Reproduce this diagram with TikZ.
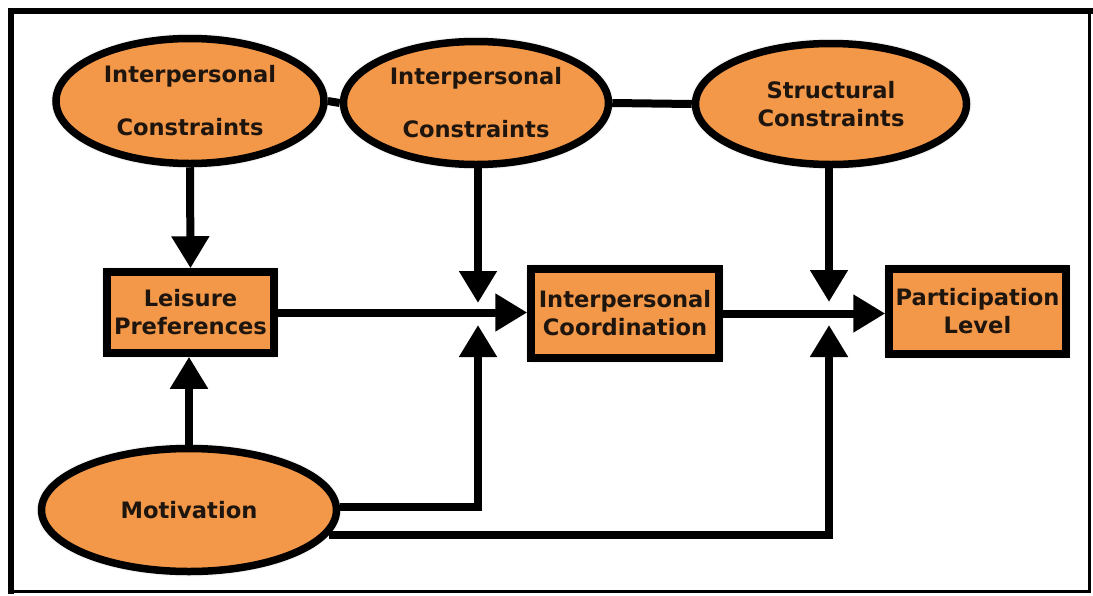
\documentclass[tikz,border=0pt]{standalone}
\usepackage{fontspec}
\setmainfont{DejaVu Sans}
\usetikzlibrary{arrows.meta,shapes.geometric,shadows.blur}
\definecolor{boxorange}{RGB}{243,151,72}
\definecolor{inkdark}{RGB}{30,22,14}

\begin{document}
\begin{tikzpicture}[x=1pt,y=-1pt,
  label text/.style={font=\bfseries\fontsize{22.6}{28}\selectfont, text=inkdark},
  shapebase/.style={label text, draw=black, line width=7.5pt, fill=boxorange,
    inner sep=0pt, align=center,
    blur shadow={shadow xshift=0pt, shadow yshift=0pt, shadow blur radius=5pt, shadow opacity=60}},
  oval/.style={shapebase, ellipse},
  panel/.style={shapebase, rectangle},
  link/.style={line width=8pt, black},
  flow/.style={link, -{Triangle[width=36pt,length=32pt]}},
]
\useasboundingbox (0,0) rectangle (1093,595);

% outer frame: heavy left and top edges, lighter right and bottom edges
\draw[line width=3pt] (11,11) rectangle (1089.5,591);
\draw[line width=6pt, line cap=rect] (11,591) -- (11,11) -- (1089.5,11);

% constraint ovals along the top
\node[oval, minimum width=268pt, minimum height=125pt] (ipA) at (190,101)
  {Interpersonal\\[25pt]Constraints};
\node[oval, minimum width=265pt, minimum height=123pt] (ipB) at (476,103)
  {Interpersonal\\[25pt]Constraints};
\node[oval, minimum width=271pt, minimum height=121pt] (struct) at (831,104)
  {Structural\\Constraints};

% middle row of boxes
\node[panel, minimum width=167pt, minimum height=81pt] (leisure) at (190.5,312.5)
  {Leisure\\Preferences};
\node[panel, minimum width=188pt, minimum height=89pt] (coord) at (625,313.5)
  {Interpersonal\\Coordination};
\node[panel, minimum width=177pt, minimum height=85pt] (partic) at (977.5,311.5)
  {Participation\\Level};

% motivation oval at the bottom
\node[oval, minimum width=295pt, minimum height=123pt] (motiv) at (189,510)
  {Motivation};

% points where the side arrows stop next to the main flow
\coordinate (coordTop) at (478,303);
\coordinate (coordBot) at (478,325);
\coordinate (particTop) at (829,302);
\coordinate (particBot) at (829,325);
\coordinate (motivUpper) at (340,507);

% links between the constraint ovals
\draw[link] (ipA.east) -- (ipB.west);
\draw[link] (ipB.east) -- (struct.west);

% vertical arrows
\draw[flow] (ipA.south) -- (leisure.north);
\draw[flow] (motiv.north) -- (motiv.north |- leisure.south);
\draw[flow] (coordTop |- ipB.south) -- (coordTop);
\draw[flow] (particTop |- struct.south) -- (particTop);

% main horizontal flow
\draw[flow] (leisure.east) -- (leisure.east -| coord.west);
\draw[flow] (coord.east) -- (coord.east -| partic.west);

% motivation feeding the later stages
\draw[flow] (motivUpper -| motiv.east) -| (coordBot);
\draw[flow] (motiv.-10) -| (particBot);
\end{tikzpicture}
\end{document}
